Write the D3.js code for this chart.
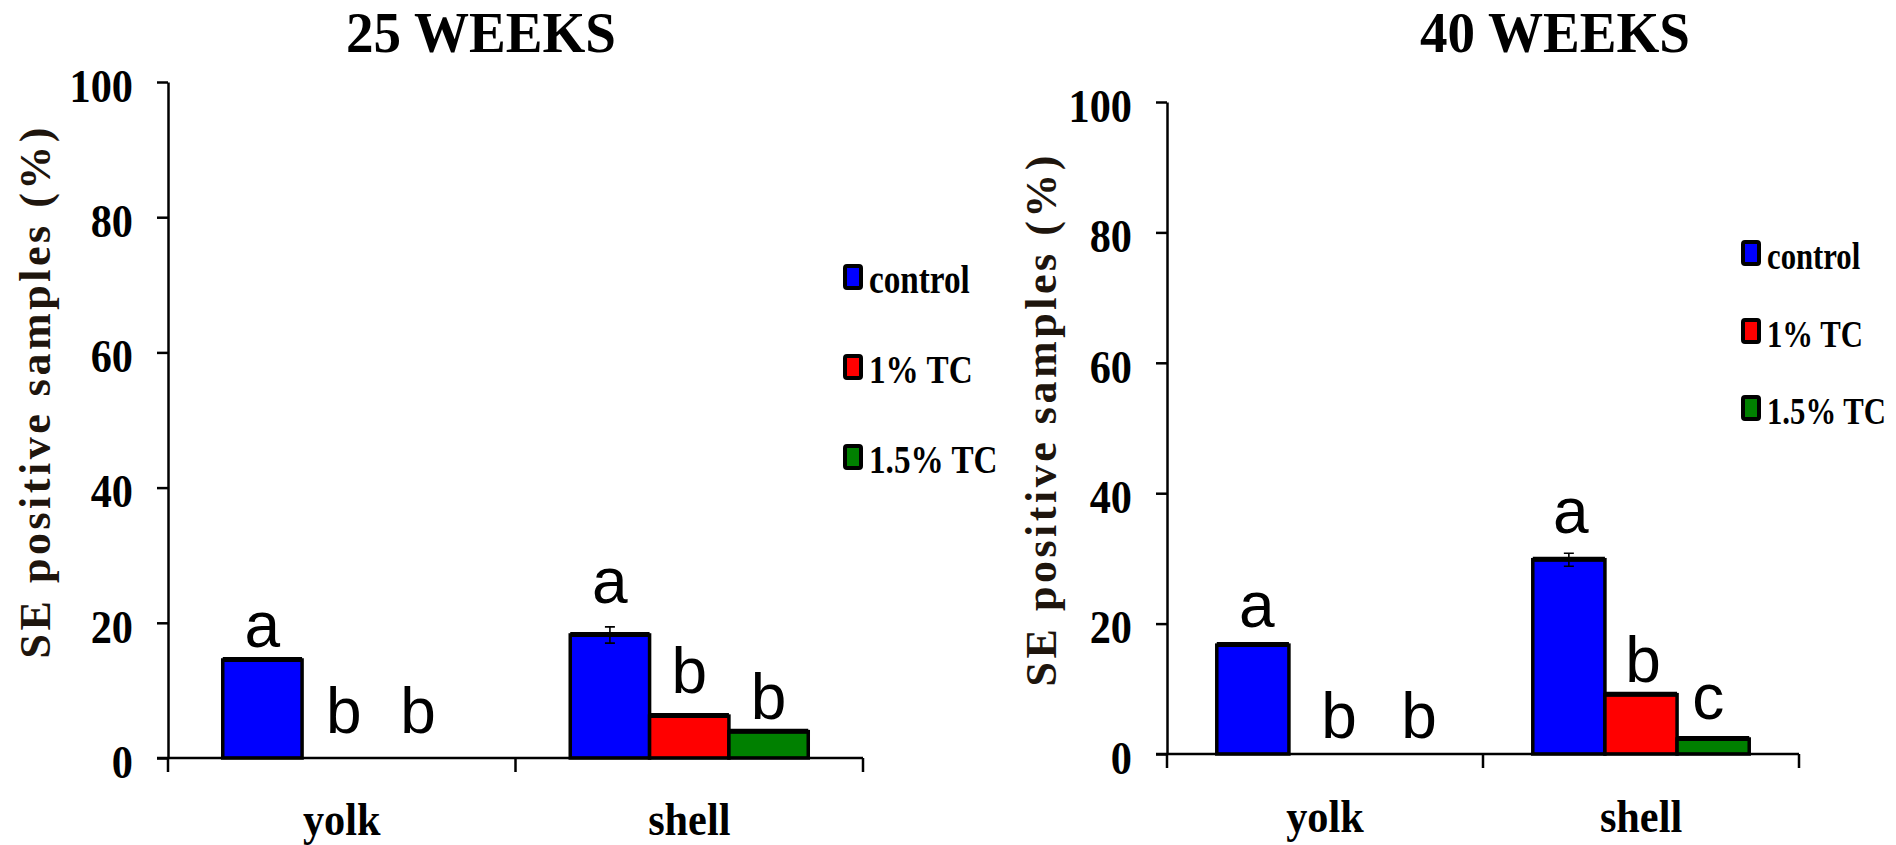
<!DOCTYPE html>
<html>
<head>
<meta charset="utf-8">
<script src="https://cdn.jsdelivr.net/npm/d3@7"></script>
<style>
  body { margin: 0; background: #fff; }
  svg { display: block; }
  .serif { font-family: "Liberation Serif", "Times New Roman", serif; font-weight: bold; fill: #000; }
  .letter { font-family: "Liberation Sans", Arial, sans-serif; fill: #000; }
</style>
</head>
<body>
<svg id="chart" width="1896" height="845"></svg>
<script>
// --- data ---
const categories = ["yolk", "shell"];
const seriesNames = ["control", "1% TC", "1.5% TC"];
const seriesColors = ["#0000ff", "#ff0000", "#008000"];
const yTicks = [0, 20, 40, 60, 80, 100];

// 25 weeks (values per category: yolk, shell)
const control25 = [14.5, 18.2];
const tc1_25 = [0, 6.2];
const tc15_25 = [0, 3.9];
const err25 = [[0, 1.2], [0, 0], [0, 0]];
const letters25 = [["a", "a"], ["b", "b"], ["b", "b"]];
const letterAt25 = [[16.4, 22.9], [3.7, 9.6], [3.7, 5.8]];
const letterDx25 = [[0, 0], [2, 0], [-3, 0]];

// 40 weeks
const control40 = [16.7, 29.8];
const tc1_40 = [0, 9.1];
const tc15_40 = [0, 2.3];
const err40 = [[0, 1.0], [0, 0], [0, 0]];
const letters40 = [["a", "a"], ["b", "b"], ["b", "c"]];
const letterAt40 = [[19.5, 33.9], [2.5, 11.0], [2.5, 5.4]];
const letterDx40 = [[4, 2], [14, 2], [22, -5]];

const svg = d3.select("#chart");

// layout of each panel (pixels)
const panels = [
  { title: "25 WEEKS", values: [control25, tc1_25, tc15_25], err: err25, letters: letters25, letterAt: letterAt25, letterDx: letterDx25,
    x0: 168, x1: 863, yTop: 82, yBot: 758, titleX: 481, labelX: 50, labelY: 393, xLabY: 835,
    legX: 843, legY: [293, 383, 473], legSize: 40 },
  { title: "40 WEEKS", values: [control40, tc1_40, tc15_40], err: err40, letters: letters40, letterAt: letterAt40, letterDx: letterDx40,
    x0: 1167, x1: 1799, yTop: 102, yBot: 754, titleX: 1555, labelX: 1056, labelY: 421, xLabY: 832,
    legX: 1741, legY: [269, 347, 424], legSize: 37 }
];

function squeezed(g, x, y, str, size, sx, anchor) {
  return g.append("text")
    .attr("class", "serif")
    .attr("transform", `translate(${x},${y}) scale(${sx},1)`)
    .attr("text-anchor", anchor)
    .style("font-size", size + "px")
    .text(str);
}

panels.forEach(p => {
  const g = svg.append("g");

  const x = d3.scaleBand().domain(categories).range([p.x0, p.x1]);
  const xs = d3.scaleBand().domain(seriesNames).range([0, x.bandwidth()]).paddingOuter(0.69);
  const y = d3.scaleLinear().domain([0, 100]).range([p.yBot, p.yTop]);

  // bars
  seriesNames.forEach((s, si) => {
    categories.forEach((c, ci) => {
      const v = p.values[si][ci];
      if (v > 0) {
        g.append("rect")
          .attr("x", x(c) + xs(s))
          .attr("y", y(v))
          .attr("width", xs.bandwidth())
          .attr("height", y(0) - y(v))
          .attr("fill", seriesColors[si])
          .attr("stroke", "#000")
          .attr("stroke-width", 3.5);
        // thicker top edge
        g.append("line")
          .attr("x1", x(c) + xs(s)).attr("x2", x(c) + xs(s) + xs.bandwidth())
          .attr("y1", y(v) - 0.5).attr("y2", y(v) - 0.5)
          .attr("stroke", "#000").attr("stroke-width", 5);
      }
      const e = p.err[si][ci];
      if (e > 0) {
        const cx = x(c) + xs(s) + xs.bandwidth() / 2;
        g.append("path")
          .attr("d", `M${cx},${y(v + e)}V${y(v - e)}M${cx - 5},${y(v + e)}H${cx + 5}M${cx - 5},${y(v - e)}H${cx + 5}`)
          .attr("stroke", "#000").attr("stroke-width", 1.6).attr("fill", "none");
      }
      g.append("text")
        .attr("class", "letter")
        .attr("x", x(c) + xs(s) + xs.bandwidth() / 2 + p.letterDx[si][ci])
        .attr("y", y(p.letterAt[si][ci]))
        .attr("text-anchor", "middle")
        .style("font-size", "64px")
        .text(p.letters[si][ci]);
    });
  });

  // y axis
  const yAxis = g.append("g")
    .attr("transform", `translate(${p.x0},0)`)
    .call(d3.axisLeft(y).tickValues(yTicks).tickSize(11).tickSizeOuter(0));
  yAxis.select(".domain").attr("stroke-width", 2.5);
  yAxis.selectAll(".tick line").attr("stroke-width", 2.5);
  yAxis.selectAll(".tick text")
    .attr("class", "serif")
    .attr("x", -35 / 0.92)
    .attr("dy", "0.42em")
    .attr("transform", "scale(0.92,1)")
    .style("font-size", "46px");

  // x axis: baseline plus ticks at the band edges
  g.append("line")
    .attr("x1", p.x0 - 11).attr("x2", p.x1)
    .attr("y1", y(0)).attr("y2", y(0))
    .attr("stroke", "#000").attr("stroke-width", 2.5);
  const edges = categories.map(c => x(c)).concat([x.range()[1]]);
  g.selectAll(".xtick").data(edges).enter().append("line")
    .attr("x1", d => d).attr("x2", d => d)
    .attr("y1", y(0)).attr("y2", y(0) + 14)
    .attr("stroke", "#000").attr("stroke-width", 2.5);
  categories.forEach(c => {
    squeezed(g, x(c) + x.bandwidth() / 2, p.xLabY, c, 47, 0.9, "middle");
  });

  // title
  squeezed(g, p.titleX, 52, p.title, 58, 0.95, "middle");

  // y label
  g.append("text")
    .attr("class", "serif")
    .attr("transform", `translate(${p.labelX},${p.labelY}) rotate(-90)`)
    .attr("text-anchor", "middle")
    .attr("textLength", 531)
    .attr("lengthAdjust", "spacing")
    .style("font-size", "44px")
    .style("fill", "#1e150d")
    .text("SE positive samples (%)");

  // legend
  seriesNames.forEach((s, i) => {
    g.append("rect")
      .attr("x", p.legX + 2).attr("y", p.legY[i] - 27)
      .attr("width", 16).attr("height", 22)
      .attr("rx", 2)
      .attr("fill", seriesColors[i])
      .attr("stroke", "#000").attr("stroke-width", 4);
    squeezed(g, p.legX + 26, p.legY[i], s, p.legSize, 0.83, "start");
  });
});
</script>
</body>
</html>
